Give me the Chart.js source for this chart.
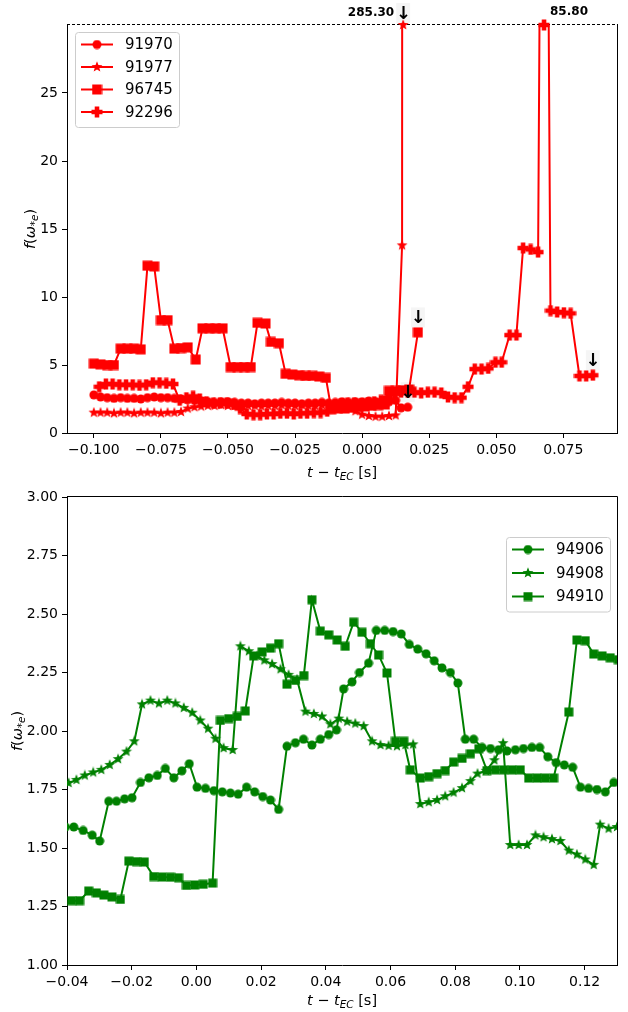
<!DOCTYPE html>
<html>
<head>
<meta charset="utf-8">
<script src="https://cdn.jsdelivr.net/npm/chart.js@4.4.1/dist/chart.umd.min.js"></script>
<style>
  html, body { margin: 0; padding: 0; background: #fff; }
  #wrap { position: relative; width: 628px; height: 1012px; overflow: hidden; }
  #topChart { position: absolute; left: 0; top: 0; }
  #bottomChart { position: absolute; left: 0; top: 480px; }
</style>
</head>
<body>
<div id="wrap">
  <canvas id="topChart" width="628" height="480"></canvas>
  <canvas id="bottomChart" width="628" height="532"></canvas>
</div>
<script>
// ---- upper panel: shots 91970, 91977, 96745, 92296 ----
const t91970 = [-0.100, -0.0975, -0.095, -0.0925, -0.090, -0.0875, -0.085, -0.0825, -0.080, -0.0775,
  -0.075, -0.0725, -0.070, -0.0675, -0.065, -0.0625, -0.060, -0.0575, -0.055, -0.0525,
  -0.050, -0.0475, -0.045, -0.0425, -0.040, -0.0375, -0.035, -0.0325, -0.030, -0.0275,
  -0.025, -0.0225, -0.020, -0.0175, -0.015, -0.0125, -0.010, -0.0075, -0.005, -0.0025,
  0.000, 0.0025, 0.005, 0.0075, 0.010, 0.0125, 0.0145, 0.017];
const f91970 = [2.8, 2.65, 2.6, 2.55, 2.6, 2.55, 2.55, 2.5, 2.6, 2.65,
  2.6, 2.6, 2.55, 2.5, 2.45, 2.4, 2.35, 2.3, 2.25, 2.3,
  2.3, 2.25, 2.2, 2.2, 2.15, 2.2, 2.2, 2.2, 2.25, 2.2,
  2.2, 2.15, 2.2, 2.2, 2.25, 2.2, 2.25, 2.3, 2.25, 2.3,
  2.3, 2.35, 2.3, 2.3, 2.3, 2.4, 1.85, 1.9];

const t91977 = [-0.100, -0.0975, -0.095, -0.0925, -0.090, -0.0875, -0.085, -0.0825, -0.080, -0.0775,
  -0.075, -0.0725, -0.070, -0.0675, -0.065, -0.0625, -0.060, -0.0575, -0.055, -0.0525,
  -0.050, -0.0475, -0.045, -0.0425, -0.040, -0.0375, -0.035, -0.0325, -0.030, -0.0275,
  -0.025, -0.0225, -0.020, -0.0175, -0.015, -0.0125, -0.010, -0.0075, -0.005, -0.0025,
  0.000, 0.0025, 0.005, 0.0075, 0.010, 0.0125, 0.0149, 0.0153];
const f91977 = [1.5, 1.5, 1.5, 1.45, 1.5, 1.5, 1.45, 1.5, 1.5, 1.5,
  1.45, 1.5, 1.5, 1.55, 1.8, 1.9, 1.95, 2.0, 2.0, 2.05,
  2.0, 2.0, 1.95, 2.0, 2.0, 1.95, 2.0, 2.0, 2.05, 2.0,
  2.0, 2.05, 2.0, 2.0, 2.05, 2.1, 2.0, 2.0, 1.9, 1.6,
  1.35, 1.25, 1.2, 1.2, 1.25, 1.3, 13.8, 285.3];

const t96745 = [-0.100, -0.0975, -0.095, -0.0925, -0.090, -0.0875, -0.085, -0.0825, -0.080, -0.0775,
  -0.075, -0.0725, -0.070, -0.0675, -0.065, -0.062, -0.0595, -0.057, -0.0545, -0.052,
  -0.049, -0.0465, -0.044, -0.0415, -0.039, -0.036, -0.034, -0.031, -0.0285, -0.026,
  -0.0235, -0.021, -0.0185, -0.016, -0.0135, -0.0115, -0.009, -0.0065, -0.004, -0.0015,
  0.001, 0.0035, 0.006, 0.0085, 0.010, 0.0125, 0.015, 0.0175, 0.0208];
const f96745 = [5.1, 5.05, 5.0, 5.0, 6.2, 6.2, 6.2, 6.15, 12.3, 12.25,
  8.3, 8.3, 6.2, 6.25, 6.3, 5.4, 7.7, 7.7, 7.7, 7.7,
  4.85, 4.85, 4.85, 4.85, 8.1, 8.05, 6.7, 6.6, 4.35, 4.3,
  4.25, 4.2, 4.2, 4.15, 4.05, 1.75, 1.8, 1.8, 1.85, 1.9,
  1.95, 2.0, 2.05, 2.1, 3.1, 3.1, 3.15, 3.2, 7.4];

const t92296 = [-0.098, -0.0955, -0.093, -0.0905, -0.088, -0.0855, -0.083, -0.0805, -0.078, -0.0755,
  -0.073, -0.0705, -0.068, -0.0655, -0.063, -0.0605, -0.058, -0.0555, -0.053, -0.0505,
  -0.048, -0.0455, -0.043, -0.0405, -0.038, -0.0355, -0.033, -0.0305, -0.028, -0.0255,
  -0.023, -0.0205, -0.018, -0.0155, -0.013, -0.0105, -0.008, -0.0055, -0.003, -0.0005,
  0.002, 0.0045, 0.007, 0.0095, 0.012, 0.0145, 0.017, 0.0195, 0.022, 0.0245,
  0.027, 0.0295, 0.032, 0.0345, 0.037, 0.0395, 0.042, 0.0445, 0.047, 0.0497,
  0.052, 0.055, 0.0575, 0.060, 0.0628, 0.0656, 0.0678, 0.0702, 0.0727, 0.0752,
  0.0777, 0.081, 0.0835, 0.086];
const f92296 = [3.4, 3.6, 3.6, 3.55, 3.55, 3.55, 3.5, 3.55, 3.7, 3.7,
  3.65, 3.6, 2.4, 2.6, 2.7, 2.5, 2.3, 2.2, 2.2, 2.2,
  2.1, 1.8, 1.4, 1.35, 1.35, 1.4, 1.4, 1.45, 1.45, 1.4,
  1.45, 1.45, 1.5, 1.5, 1.6, 2.0, 2.1, 2.2, 2.2, 2.1,
  2.2, 2.3, 2.4, 2.6, 2.9, 3.0, 3.0, 3.0, 2.95, 3.0,
  3.0, 2.95, 2.65, 2.6, 2.6, 3.4, 4.7, 4.7, 4.75, 5.2,
  5.2, 7.2, 7.2, 13.6, 13.5, 13.3, 85.8, 9.0, 8.9, 8.85,
  8.8, 4.2, 4.2, 4.25];

const topXTicks = [-0.100, -0.075, -0.050, -0.025, 0.000, 0.025, 0.050, 0.075];
const topYTicks = [0, 5, 10, 15, 20, 25];

// ---- lower panel: shots 94906, 94908, 94910 ----
const t94906 = [-0.0405, -0.0379, -0.0350, -0.0322, -0.0299, -0.0271, -0.0247, -0.0222, -0.0199, -0.0173,
  -0.0147, -0.0121, -0.0096, -0.0070, -0.0045, -0.0022, 0.0002, 0.0028, 0.0054, 0.0080,
  0.0105, 0.0129, 0.0155, 0.0180, 0.0205, 0.0229, 0.0254, 0.0280, 0.0306, 0.0331,
  0.0357, 0.0383, 0.0409, 0.0433, 0.0455, 0.0481, 0.0504, 0.0532, 0.0556, 0.0582,
  0.0608, 0.0633, 0.0658, 0.0684, 0.0710, 0.0735, 0.0759, 0.0785, 0.0808, 0.0831,
  0.0857, 0.0883, 0.0909, 0.0934, 0.0960, 0.0986, 0.1011, 0.1037, 0.1061, 0.1086,
  0.1112, 0.1137, 0.1163, 0.1187, 0.1212, 0.1238, 0.1264, 0.1290];
const f94906 = [1.59, 1.59, 1.575, 1.555, 1.53, 1.70, 1.70, 1.71, 1.715, 1.78,
  1.80, 1.81, 1.84, 1.80, 1.83, 1.86, 1.76, 1.755, 1.745, 1.74,
  1.735, 1.73, 1.76, 1.74, 1.72, 1.705, 1.665, 1.935, 1.95, 1.965,
  1.94, 1.965, 1.985, 2.005, 2.18, 2.21, 2.25, 2.29, 2.43, 2.43,
  2.425, 2.415, 2.37, 2.35, 2.33, 2.30, 2.27, 2.25, 2.205, 1.965,
  1.965, 1.93, 1.925, 1.92, 1.915, 1.92, 1.925, 1.93, 1.93, 1.89,
  1.865, 1.855, 1.845, 1.76, 1.755, 1.75, 1.74, 1.78];

const t94908 = [-0.0395, -0.0371, -0.0345, -0.0319, -0.0294, -0.0268, -0.0242, -0.0216, -0.0192, -0.0168,
  -0.0142, -0.0116, -0.0090, -0.0065, -0.0039, -0.0013, 0.0012, 0.0036, 0.0059, 0.0084,
  0.0112, 0.0136, 0.0162, 0.0188, 0.0210, 0.0234, 0.0260, 0.0285, 0.0311, 0.0337,
  0.0363, 0.0388, 0.0414, 0.0440, 0.0466, 0.0491, 0.0517, 0.0543, 0.0569, 0.0594,
  0.0620, 0.0646, 0.0670, 0.0692, 0.0718, 0.0744, 0.0769, 0.0795, 0.0821, 0.0847,
  0.0869, 0.0895, 0.0921, 0.0948, 0.0970, 0.0996, 0.1022, 0.1048, 0.1073, 0.1099,
  0.1125, 0.1151, 0.1176, 0.1202, 0.1228, 0.1248, 0.1274, 0.1300];
const f94908 = [1.778, 1.791, 1.810, 1.823, 1.834, 1.855, 1.880, 1.912, 1.956, 2.114,
  2.130, 2.118, 2.130, 2.118, 2.099, 2.078, 2.045, 2.010, 1.967, 1.927,
  1.919, 2.362, 2.341, 2.321, 2.302, 2.286, 2.264, 2.240, 2.220, 2.083,
  2.073, 2.062, 2.029, 2.053, 2.040, 2.032, 2.021, 1.956, 1.940, 1.937,
  1.935, 1.940, 1.943, 1.688, 1.696, 1.705, 1.721, 1.737, 1.756, 1.786,
  1.818, 1.830, 1.875, 1.948, 1.513, 1.513, 1.513, 1.554, 1.546, 1.538,
  1.530, 1.489, 1.472, 1.451, 1.428, 1.600, 1.583, 1.590];

const t94910 = [-0.0386, -0.0361, -0.0333, -0.0309, -0.0286, -0.0261, -0.0235, -0.0209, -0.0185, -0.0161,
  -0.0132, -0.0106, -0.0080, -0.0055, -0.0031, -0.0005, 0.0021, 0.0050, 0.0074, 0.0100,
  0.0126, 0.0151, 0.0177, 0.0203, 0.0229, 0.0254, 0.0280, 0.0306, 0.0332, 0.0357,
  0.0383, 0.0409, 0.0435, 0.0460, 0.0486, 0.0512, 0.0538, 0.0563, 0.0589, 0.0615,
  0.0641, 0.0661, 0.0692, 0.0718, 0.0744, 0.0769, 0.0795, 0.0821, 0.0847, 0.0873,
  0.0898, 0.0924, 0.0950, 0.0976, 0.1001, 0.1027, 0.1053, 0.1078, 0.1104, 0.1151,
  0.1176, 0.1202, 0.1228, 0.1254, 0.1279, 0.1304];
const f94910 = [1.275, 1.275, 1.316, 1.308, 1.299, 1.291, 1.280, 1.444, 1.442, 1.440,
  1.378, 1.376, 1.375, 1.373, 1.340, 1.342, 1.345, 1.350, 2.045, 2.053,
  2.062, 2.086, 2.321, 2.338, 2.354, 2.373, 2.200, 2.216, 2.237, 2.561,
  2.427, 2.411, 2.389, 2.362, 2.465, 2.422, 2.373, 2.325, 2.248, 1.956,
  1.956, 1.834, 1.799, 1.805, 1.818, 1.831, 1.867, 1.883, 1.903, 1.924,
  1.831, 1.834, 1.834, 1.834, 1.834, 1.799, 1.799, 1.799, 1.799, 2.081,
  2.389, 2.386, 2.329, 2.321, 2.313, 2.305];

const bottomXTicks = [-0.04, -0.02, 0.00, 0.02, 0.04, 0.06, 0.08, 0.10, 0.12];
const bottomYTicks = [1.00, 1.25, 1.50, 1.75, 2.00, 2.25, 2.50, 2.75, 3.00];

const RED = '#ff0000';
const GREEN = '#008000';
const FONT = "'DejaVu Sans', sans-serif";

Chart.defaults.font.family = FONT;
Chart.defaults.font.size = 14;
Chart.defaults.color = '#000';

// filled marker sprites, used both on the lines and in the legends
function makeMarker(shape, color, size) {
  const c = document.createElement('canvas');
  c.width = size;
  c.height = size;
  const g = c.getContext('2d');
  const m = size / 2;
  g.fillStyle = color;
  g.beginPath();
  if (shape === 'circle') {
    g.arc(m, m, m - 0.5, 0, Math.PI * 2);
  } else if (shape === 'square') {
    g.rect(0.5, 0.5, size - 1, size - 1);
  } else if (shape === 'star') {
    const R = m - 0.3, r = R * 0.42;
    for (let i = 0; i < 10; i++) {
      const a = -Math.PI / 2 + i * Math.PI / 5;
      const rr = i % 2 ? r : R;
      g.lineTo(m + rr * Math.cos(a), m + rr * Math.sin(a));
    }
    g.closePath();
  } else if (shape === 'plus') {
    const h = size * 0.19;
    g.rect(m - h, 0.5, 2 * h, size - 1);
    g.rect(0.5, m - h, size - 1, 2 * h);
  }
  g.fill();
  return c;
}

function pairs(t, f) {
  return t.map((x, i) => ({ x: x, y: f[i] }));
}

function fmtTick(v, d) {
  return (v < -1e-9 ? '\u2212' : '') + Math.abs(v).toFixed(d);
}

function lineSet(label, t, f, color, marker, order) {
  return {
    label: label,
    data: pairs(t, f),
    borderColor: color,
    backgroundColor: color,
    borderWidth: 2,
    pointStyle: marker,
    pointRadius: 5,
    pointHoverRadius: 5,
    tension: 0,
    clip: 0,
    order: order
  };
}

// math-style axis label: runs of [text, style], style: r roman, i italic, s subscript
function drawMath(ctx, runs, cx, cy, vertical) {
  const base = 14.5;
  const fontOf = k => (k.includes('i') ? 'italic ' : '') + (k.includes('s') ? base * 0.72 : base) + 'px ' + FONT;
  ctx.save();
  ctx.translate(cx, cy);
  if (vertical) ctx.rotate(-Math.PI / 2);
  let w = 0;
  runs.forEach(([txt, k]) => { ctx.font = fontOf(k); w += ctx.measureText(txt).width; });
  let x = -w / 2;
  ctx.fillStyle = '#000';
  ctx.textBaseline = 'alphabetic';
  ctx.textAlign = 'left';
  runs.forEach(([txt, k]) => {
    ctx.font = fontOf(k);
    ctx.fillText(txt, x, k.includes('s') ? 8 : 5);
    x += ctx.measureText(txt).width;
  });
  ctx.restore();
}

const xTitle = [['t', 'i'], [' \u2212 ', 'r'], ['t', 'i'], ['EC', 'is'], [' [s]', 'r']];
const yTitle = [['f', 'i'], ['(', 'r'], ['\u03c9', 'i'], ['*', 's'], ['e', 'is'], [')', 'r']];

function drawArrow(ctx, x, y) {
  ctx.save();
  ctx.fillStyle = 'rgba(0,0,0,0.04)';
  ctx.fillRect(x - 7, y - 10, 14, 20);
  ctx.fillStyle = '#000';
  ctx.font = 'bold 18px ' + FONT;
  ctx.textAlign = 'center';
  ctx.textBaseline = 'middle';
  ctx.fillText('\u2193', x, y + 1);
  ctx.restore();
}

function drawLegend(ctx, items, left, top, color, rowH) {
  const w = 104;
  const h = 12.5 + rowH * (items.length - 1) + 15;
  ctx.save();
  ctx.beginPath();
  ctx.roundRect(left + 0.5, top + 0.5, w, h, 3);
  ctx.fillStyle = 'rgba(255,255,255,0.8)';
  ctx.fill();
  ctx.strokeStyle = '#cccccc';
  ctx.lineWidth = 1;
  ctx.stroke();
  items.forEach((it, i) => {
    const yy = top + 12.5 + i * rowH;
    ctx.strokeStyle = color;
    ctx.lineWidth = 2;
    ctx.beginPath();
    ctx.moveTo(left + 6, yy);
    ctx.lineTo(left + 38, yy);
    ctx.stroke();
    const m = it.marker;
    ctx.drawImage(m, left + 22 - m.width / 2, yy - m.height / 2);
    ctx.fillStyle = '#000';
    ctx.font = '15px ' + FONT;
    ctx.textAlign = 'left';
    ctx.textBaseline = 'middle';
    ctx.fillText(it.label, left + 50, yy + 1);
  });
  ctx.restore();
}

function axisOpts(min, max, tickVals, digits, fit) {
  return {
    type: 'linear',
    min: min,
    max: max,
    afterBuildTicks: s => { s.ticks = tickVals.map(v => ({ value: v })); },
    afterFit: fit,
    ticks: {
      callback: v => digits === 0 ? String(v) : fmtTick(v, digits),
      padding: 4,
      maxRotation: 0,
      autoSkip: false,
      font: { size: 14 }
    },
    grid: { drawOnChartArea: false, tickLength: 5, color: '#000', tickWidth: 1 },
    border: { color: '#000', width: 1 }
  };
}

// ---------- upper panel ----------
const mkR = {
  circle: makeMarker('circle', RED, 10),
  star: makeMarker('star', RED, 12),
  square: makeMarker('square', RED, 11),
  plus: makeMarker('plus', RED, 12)
};

const topDecor = {
  id: 'topDecor',
  afterDraw(chart) {
    const { ctx, chartArea: a, scales: { x, y } } = chart;
    ctx.save();
    ctx.strokeStyle = '#000';
    ctx.lineWidth = 1;
    ctx.beginPath();
    ctx.moveTo(a.right + 0.5, a.top);
    ctx.lineTo(a.right + 0.5, a.bottom);
    ctx.stroke();
    // y = 30 ceiling, values above it are written out
    ctx.setLineDash([3, 2]);
    ctx.beginPath();
    ctx.moveTo(a.left, a.top - 0.5);
    ctx.lineTo(a.right + 1, a.top - 0.5);
    ctx.stroke();
    ctx.setLineDash([]);

    chart.data.datasets.forEach(ds => {
      const pts = ds.data;
      const last = pts.length - 1;
      pts.forEach((p, i) => {
        if (p.y <= y.max) return;
        const px = x.getPixelForValue(p.x);
        const m = ds.pointStyle;
        ctx.drawImage(m, px - m.width / 2, a.top - m.height / 2);
        ctx.fillStyle = '#000';
        ctx.font = 'bold 12px ' + FONT;
        ctx.textBaseline = 'middle';
        if (i === last) {
          ctx.textAlign = 'right';
          ctx.fillText(p.y.toFixed(2), px - 9, a.top - 12);
          drawArrow(ctx, px, a.top - 12);
        } else {
          ctx.textAlign = 'left';
          ctx.fillText(p.y.toFixed(2), px + 6, a.top - 13);
        }
      });
      const end = pts[last];
      if (end.y <= y.max) {
        drawArrow(ctx, x.getPixelForValue(end.x), y.getPixelForValue(end.y) - 15);
      }
    });

    drawLegend(ctx, [
      { label: '91970', marker: mkR.circle },
      { label: '91977', marker: mkR.star },
      { label: '96745', marker: mkR.square },
      { label: '92296', marker: mkR.plus }
    ], a.left + 8, a.top + 7, RED, 22.5);

    drawMath(ctx, xTitle, (a.left + a.right) / 2, 472, false);
    drawMath(ctx, yTitle, 30, (a.top + a.bottom) / 2, true);
    ctx.restore();
  }
};

new Chart(document.getElementById('topChart'), {
  type: 'line',
  data: {
    datasets: [
      lineSet('91970', t91970, f91970, RED, mkR.circle, 4),
      lineSet('91977', t91977, f91977, RED, mkR.star, 3),
      lineSet('96745', t96745, f96745, RED, mkR.square, 2),
      lineSet('92296', t92296, f92296, RED, mkR.plus, 1)
    ]
  },
  options: {
    responsive: false,
    animation: false,
    events: [],
    layout: { padding: { top: 25, right: 11, left: 0, bottom: 0 } },
    plugins: { legend: { display: false }, tooltip: { enabled: false } },
    scales: {
      x: axisOpts(-0.11, 0.095, topXTicks, 3, s => { s.height = 47; }),
      y: axisOpts(0, 30, topYTicks, 0, s => { s.width = 67; })
    }
  },
  plugins: [topDecor]
});

// ---------- lower panel ----------
const mkG = {
  circle: makeMarker('circle', GREEN, 10),
  star: makeMarker('star', GREEN, 12),
  square: makeMarker('square', GREEN, 10)
};

const bottomDecor = {
  id: 'bottomDecor',
  afterDraw(chart) {
    const { ctx, chartArea: a } = chart;
    ctx.save();
    ctx.strokeStyle = '#000';
    ctx.lineWidth = 1;
    ctx.beginPath();
    ctx.moveTo(a.left, a.top - 0.5);
    ctx.lineTo(a.right + 0.5, a.top - 0.5);
    ctx.lineTo(a.right + 0.5, a.bottom);
    ctx.stroke();

    drawLegend(ctx, [
      { label: '94906', marker: mkG.circle },
      { label: '94908', marker: mkG.star },
      { label: '94910', marker: mkG.square }
    ], a.right - 7 - 104, a.top + 40, GREEN, 23.5);

    drawMath(ctx, xTitle, (a.left + a.right) / 2, 520, false);
    drawMath(ctx, yTitle, 17, (a.top + a.bottom) / 2, true);
    ctx.restore();
  }
};

new Chart(document.getElementById('bottomChart'), {
  type: 'line',
  data: {
    datasets: [
      lineSet('94906', t94906, f94906, GREEN, mkG.circle, 3),
      lineSet('94908', t94908, f94908, GREEN, mkG.star, 2),
      lineSet('94910', t94910, f94910, GREEN, mkG.square, 1)
    ]
  },
  options: {
    responsive: false,
    animation: false,
    events: [],
    layout: { padding: { top: 17, right: 11, left: 0, bottom: 0 } },
    plugins: { legend: { display: false }, tooltip: { enabled: false } },
    scales: {
      x: axisOpts(-0.04, 0.13, bottomXTicks, 2, s => { s.height = 47; }),
      y: axisOpts(1.0, 3.0, bottomYTicks, 2, s => { s.width = 67; })
    }
  },
  plugins: [bottomDecor]
});
</script>
</body>
</html>
